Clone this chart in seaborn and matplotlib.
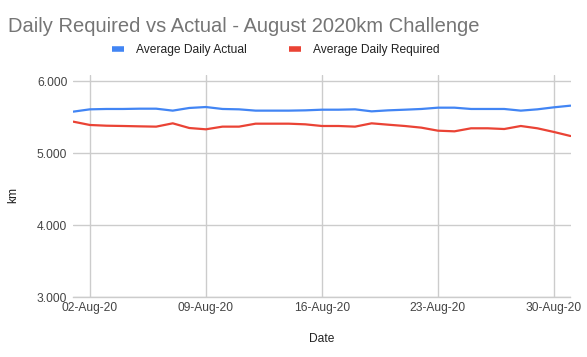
import matplotlib
matplotlib.use("Agg")
import matplotlib.dates as mdates
import numpy as np
import pandas as pd
import seaborn as sns
from matplotlib import pyplot as plt
from matplotlib.lines import Line2D
from matplotlib.ticker import FormatStrFormatter

# Values, one per day of August 2020
dates = pd.date_range("2020-08-01", "2020-08-31", freq="D")
average_daily_actual = [
    5.575, 5.607, 5.612, 5.612, 5.616, 5.616, 5.589, 5.626, 5.639, 5.612,
    5.607, 5.589, 5.589, 5.589, 5.593, 5.602, 5.602, 5.607, 5.579, 5.593,
    5.602, 5.612, 5.630, 5.630, 5.612, 5.612, 5.612, 5.589, 5.607, 5.635,
    5.658,
]
average_daily_required = [
    5.436, 5.390, 5.380, 5.376, 5.371, 5.367, 5.413, 5.348, 5.330, 5.367,
    5.367, 5.408, 5.408, 5.408, 5.399, 5.376, 5.376, 5.367, 5.413, 5.394,
    5.376, 5.353, 5.311, 5.302, 5.344, 5.344, 5.334, 5.376, 5.344, 5.293,
    5.237,
]
series_names = ["Average Daily Actual", "Average Daily Required"]
series_colors = ["#4285F4", "#EA4335"]

sns.set_theme(style="white")
plt.rcParams["font.family"] = ["Liberation Sans", "DejaVu Sans"]

df = pd.DataFrame(
    {
        "Date": dates,
        series_names[0]: average_daily_actual,
        series_names[1]: average_daily_required,
    }
).melt("Date", var_name="Series", value_name="km")

W, H = 587, 357
fig = plt.figure(figsize=(W / 100, H / 100), dpi=100)
ax = fig.add_axes([73.3 / W, 1 - 297.3 / H, (570.5 - 73.3) / W, (297.3 - 75) / H])

sns.lineplot(
    data=df,
    x="Date",
    y="km",
    hue="Series",
    palette=dict(zip(series_names, series_colors)),
    linewidth=1.6,
    ax=ax,
    legend=False,
)

ax.set_xlim(dates[0], dates[-1])
ax.set_ylim(3, 6 + 6 / 72.1)
ax.set_yticks([3, 4, 5, 6])
ax.yaxis.set_major_formatter(FormatStrFormatter("%.3f"))
ax.xaxis.set_major_locator(mdates.DayLocator(bymonthday=[2, 9, 16, 23, 30]))
ax.xaxis.set_major_formatter(mdates.DateFormatter("%d-%b-%y"))

ax.grid(True, color="#cccccc", linewidth=1)
for side in ["left", "right", "top"]:
    ax.spines[side].set_visible(False)
ax.spines["bottom"].set_color("#cccccc")
ax.spines["bottom"].set_linewidth(1)
ax.tick_params(axis="both", length=0, labelsize=8.64, labelcolor="#444444")
ax.tick_params(axis="y", pad=4.3)
ax.tick_params(axis="x", pad=3.6)

ax.set_xlabel("Date", fontsize=8.64, color="#222222", va="center")
ax.xaxis.set_label_coords(0.5, (297.3 - 339.3) / 222.3)
ax.set_ylabel("km", fontsize=8.64, color="#222222", va="center")
ax.yaxis.set_label_coords((13.3 - 73.3) / 497.2, (297.3 - 195) / 222.3)

fig.text(8 / W, 1 - 32 / H, "Daily Required vs Actual - August 2020km Challenge",
         fontsize=14.5, color="#757575", ha="left", va="baseline")

handles = [Line2D([], [], color=c, linewidth=4, solid_capstyle="butt") for c in series_colors]
fig.legend(
    handles,
    series_names,
    loc="center left",
    bbox_to_anchor=(111.5 / W, 1 - 50 / H),
    ncol=2,
    frameon=False,
    fontsize=8.64,
    labelcolor="#222222",
    handlelength=1.0,
    handletextpad=1.0,
    columnspacing=3.6,
    borderpad=0,
    borderaxespad=0,
)

fig.savefig("out.png", dpi=100)
